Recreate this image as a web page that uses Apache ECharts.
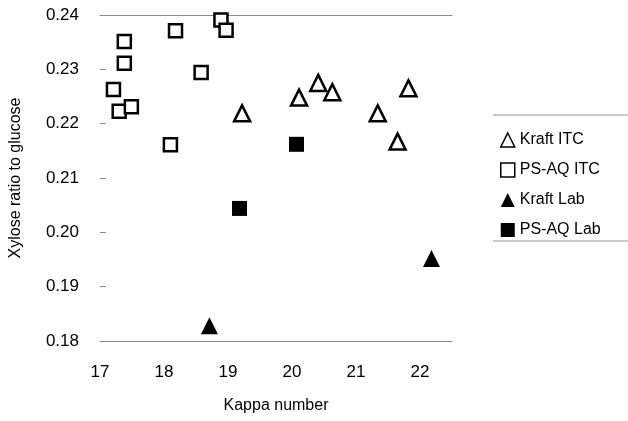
<!DOCTYPE html>
<html>
<head>
<meta charset="utf-8">
<script src="https://cdn.jsdelivr.net/npm/echarts@6/dist/echarts.min.js"></script>
<style>
html,body{margin:0;padding:0;background:#fff;}
#main{width:628px;height:421px;}
</style>
</head>
<body>
<div id="main"></div>
<script>
const seriesNames = ['Kraft ITC', 'PS-AQ ITC', 'Kraft Lab', 'PS-AQ Lab'];
const kraftITC = [[19.22,0.2219],[20.11,0.2248],[20.41,0.2275],[20.63,0.2258],[21.34,0.2219],[21.65,0.2167],[21.82,0.2265]];
const psaqITC = [[17.38,0.2351],[17.38,0.2311],[17.21,0.2263],[17.30,0.2223],[17.49,0.2231],[18.18,0.2371],[18.10,0.2161],[18.58,0.2294],[18.89,0.2391],[18.97,0.2372]];
const kraftLab = [[18.71,0.1828],[22.18,0.1952]];
const psaqLab = [[20.07,0.2162],[19.18,0.2044]];
const xTicks = [17,18,19,20,21,22];
const yTicks = ['0.18','0.19','0.20','0.21','0.22','0.23','0.24'];

const FONT = 'Liberation Sans';
const chart = echarts.init(document.getElementById('main'), null, {renderer:'canvas'});
const gray = '#8a8a8a';
chart.setOption({
  animation:false,
  backgroundColor:'#fff',
  textStyle:{fontFamily:FONT,color:'#000'},
  grid:{left:99,right:176,top:15,bottom:80,containLabel:false},
  xAxis:[{
    type:'value',min:xTicks[0],max:22.5,interval:1,
    name:'Kappa number',nameLocation:'middle',nameGap:57,
    nameTextStyle:{fontSize:16,color:'#000',fontFamily:FONT},
    axisLine:{show:true,lineStyle:{color:gray,width:1}},
    axisTick:{show:false},
    splitLine:{show:false},
    axisLabel:{showMaxLabel:false,margin:23,fontSize:17,color:'#000',fontFamily:FONT,
      formatter:v=> xTicks.includes(v)? String(v):''}
  },{
    type:'value',position:'top',min:xTicks[0],max:22.5,
    axisLine:{show:true,lineStyle:{color:gray,width:1}},
    axisTick:{show:false},axisLabel:{show:false},splitLine:{show:false}
  }],
  yAxis:{
    type:'value',min:0.18,max:0.24,interval:0.01,
    name:'Xylose ratio to glucose',nameLocation:'middle',nameGap:76,
    nameTextStyle:{fontSize:16,color:'#000',fontFamily:FONT},
    axisLine:{show:false},
    axisTick:{show:true,inside:true,length:6,lineStyle:{color:gray}},
    splitLine:{show:false},
    axisLabel:{margin:21,fontSize:17,color:'#000',fontFamily:FONT,
      formatter:v=>{const s=v.toFixed(2);return yTicks.includes(s)?s:'';}}
  },
  legend:{
    orient:'vertical',left:495,top:127,itemGap:14,itemWidth:14,itemHeight:14,
    textStyle:{fontSize:16,color:'#000',fontFamily:FONT},
    data:[
      {name:seriesNames[0],icon:'triangle',itemStyle:{color:'#fff',borderColor:'#000',borderWidth:1.5}},
      {name:seriesNames[1],icon:'rect',itemStyle:{color:'#fff',borderColor:'#000',borderWidth:1.5}},
      {name:seriesNames[2],icon:'triangle',itemStyle:{color:'#000'}},
      {name:seriesNames[3],icon:'rect',itemStyle:{color:'#000'}}
    ]
  },
  graphic:[
    {type:'line',shape:{x1:493,y1:115,x2:628,y2:115},style:{stroke:'#999',lineWidth:1}},
    {type:'line',shape:{x1:493,y1:241,x2:628,y2:241},style:{stroke:'#999',lineWidth:1}}
  ],
  series:[
    {name:seriesNames[0],type:'scatter',data:kraftITC,symbol:'triangle',symbolSize:16,
      itemStyle:{color:'#fff',borderColor:'#000',borderWidth:2.5,opacity:1}},
    {name:seriesNames[1],type:'scatter',data:psaqITC,symbol:'rect',symbolSize:13,
      itemStyle:{color:'#fff',borderColor:'#000',borderWidth:2.5,opacity:1}},
    {name:seriesNames[2],type:'scatter',data:kraftLab,symbol:'triangle',symbolSize:17,
      itemStyle:{color:'#000',opacity:1}},
    {name:seriesNames[3],type:'scatter',data:psaqLab,symbol:'rect',symbolSize:15,
      itemStyle:{color:'#000',opacity:1}}
  ]
});
</script>
</body>
</html>
